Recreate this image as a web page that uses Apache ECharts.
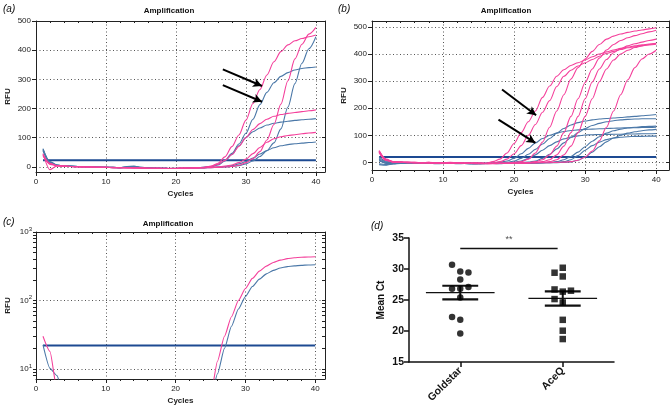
<!DOCTYPE html>
<html><head><meta charset="utf-8">
<script src="https://cdn.jsdelivr.net/npm/echarts@6/dist/echarts.min.js"></script>
<style>html,body{margin:0;padding:0;background:#fff}#c{width:672px;height:407px}</style>
</head><body><div id="c"></div>
<script>
// ---------- data ----------
const cycles = [1,2,3,4,5,6,7,8,9,10,11,12,13,14,15,16,17,18,19,20,21,22,23,24,25,26,27,28,29,30,31,32,33,34,35,36,37,38,39,40];
const cycleTicks = [0,10,20,30,40];
const cycleMinorTicks = [2,4,6,8,12,14,16,18,22,24,26,28,32,34,36,38];
const rfuTicks = [0,100,200,300,400,500];
const logLabelTicks = [10,100,1000];
const logGridTicks = [10,100];
const logMinorTicks = [8,9,10,20,30,40,50,60,70,80,90,100,200,300,400,500,600,700,800,900,1000];

// panel (a)
const thresholdA = 22;
const aPink1 = [40,8,4,2,1,0,-1,-1,-2,-2,-3,-3,-4,-4,-5,-5,-5,-6,-6,-6,-5,-5,-4,-3,2,12,34,69,109,160,217,265,315,360,395,418,432,440,446,452];
const aBlue1 = [62,15,6,3,2,1,0,-1,-1,-2,-2,-3,0,1,-2,-4,-4,-5,-6,-5,-5,-4,-3,-2,1,8,22,46,78,115,163,213,255,288,310,323,332,337,340,342];
const aPink3 = [45,-10,3,2,1,0,0,-1,-1,-2,-3,-3,-3,-4,-4,-5,-5,-5,-5,-5,-4,-4,-3,-2,1,8,22,42,70,100,128,148,163,173,179,183,186,189,192,195];
const aBlue3 = [55,12,5,3,2,1,0,0,-1,-1,-2,-4,-2,0,-3,-4,-5,-5,-6,-6,-5,-4,-3,-2,0,6,20,42,72,100,120,133,143,149,153,156,159,161,163,165];
const aPink2 = [38,10,4,2,1,0,-1,-1,-2,-2,-2,-3,-3,-4,-4,-5,-5,-5,-6,-6,-5,-5,-5,-4,-3,-2,-1,1,5,14,28,52,92,145,215,295,370,420,455,478];
const aBlue2 = [60,18,6,3,2,1,0,-1,-1,-2,-2,-3,1,2,-2,-4,-5,-5,-6,-6,-6,-5,-5,-4,-3,-2,-1,1,4,10,20,35,55,82,130,205,285,355,405,446];
const aPink4 = [42,12,4,2,1,0,-1,-1,-2,-2,-3,-3,-4,-4,-5,-5,-5,-6,-6,-6,-5,-5,-4,-3,-2,0,2,6,14,26,45,66,84,96,103,107,110,113,116,118];
const aBlue4 = [58,14,5,3,1,0,0,-1,-2,-2,-3,-3,-2,0,-3,-4,-5,-5,-6,-6,-5,-5,-4,-3,-2,-1,1,4,10,18,30,44,56,65,72,76,79,81,83,85];
const arrowsA = [[[26.7,334],[32.3,277]], [[26.7,280],[32.3,223]]];

// panel (b)
const thresholdB = 20;
const bP1 = [44,12,3,1,0,0,-1,0,-1,-1,0,-1,-2,-1,-2,-3,3,12,35,70,110,150,190,240,282,318,342,358,368,378,390,400,408,415,421,426,430,434,437,440];
const bP2 = [40,10,2,1,0,-1,-1,0,-2,-1,-1,-2,-2,-3,-2,-3,-2,3,12,32,62,100,140,185,228,280,318,340,356,368,380,392,402,410,417,423,427,431,434,436];
const bP3 = [38,8,2,0,-1,-1,-2,-1,-2,-3,-2,-3,-3,-4,-3,-4,-3,-3,-2,0,3,12,35,75,130,190,250,308,350,382,410,435,455,466,474,480,485,489,493,497];
const bP4 = [42,9,2,0,0,-1,-1,-2,-2,-2,-3,-2,-3,-4,-3,-5,-4,-3,-3,-2,-2,-1,3,10,28,60,110,170,235,295,345,385,415,435,450,460,468,475,482,488];
const bP5 = [36,7,1,0,-1,-1,-2,-2,-3,-2,-3,-3,-4,-4,-5,-4,-4,-3,-3,-2,-2,-1,0,3,10,28,60,110,170,235,297,345,380,405,420,430,438,444,450,455];
const bP6 = [39,8,2,1,0,-1,-1,-2,-2,-3,-2,-3,-3,-4,-4,-4,-5,-4,-4,-3,-3,-2,-1,0,3,10,28,60,110,170,235,298,345,378,400,414,424,430,435,439];
const bP7 = [41,10,3,1,0,0,-1,-1,-2,-2,-2,-3,-3,-3,-4,-4,-4,-4,-3,-3,-3,-2,-2,-1,-1,0,1,3,8,20,42,80,130,190,250,305,350,382,400,414];
const bB1 = [20,5,1,0,-1,-2,-1,-3,-2,-4,-3,-2,-4,-3,-5,-3,-2,1,5,15,32,52,72,88,100,108,114,118,120,122,123,124,125,126,127,128,128,129,129,130];
const bB2 = [12,-4,-3,-2,-3,-2,-4,-3,-5,-4,-3,-5,-4,-6,-4,-5,-3,-2,0,5,15,30,48,68,88,108,125,138,147,153,157,160,162,164,166,168,170,172,174,177];
const bB3 = [-8,-10,-6,-4,-3,-3,-2,-4,-3,-2,-3,-4,-3,-2,-3,-4,-3,-2,-1,1,5,14,28,45,62,76,87,94,98,101,102,103,103,104,104,105,105,106,106,107];
const bB4 = [5,-2,-3,-2,-3,-1,-2,-3,-2,-4,-3,-2,-3,-4,-5,-3,-4,-3,-2,-2,-1,1,5,15,30,50,72,92,110,125,136,144,150,154,157,159,160,161,161,161];
const bB5 = [15,2,-1,-2,-3,-2,-3,-4,-3,-2,-4,-3,-4,-5,-4,-3,-4,-5,-3,-3,-2,-3,-2,-1,0,3,10,22,38,58,78,95,108,117,123,127,130,132,133,134];
const bB6 = [-5,-8,-5,-3,-2,-3,-2,-3,-4,-3,-2,-3,-4,-3,-2,-4,-3,-3,-4,-2,-2,-3,-2,-1,-1,0,3,10,25,45,62,75,84,90,93,95,96,96,97,97];
const bB7 = [8,0,-2,-3,-2,-3,-4,-3,-2,-3,-4,-3,-3,-4,-5,-4,-3,-4,-3,-3,-2,-2,-3,-2,-1,-1,0,2,8,20,38,58,76,90,100,108,113,117,120,122];
const arrowsB = [[[18.3,269],[23.1,174]], [[17.8,158],[23.0,72]]];

// panel (c) (log scale)
const thresholdC = 22;
const cPink = [30,18,5,3.5,3,3,2.8,2.6,2.5,2.4,2.3,2.2,2.2,2.1,2,2,2,2,2,2,2.1,2.2,2.4,2.8,4,13,30,58,100,150,210,268,318,358,388,408,420,427,431,435];
const cBlue = [22.4,10.2,8,4,3,2.8,2.6,2.5,2.4,2.3,2.2,2.1,2.2,2.1,2,2,2,2,2,2,2,2.1,2.3,2.6,3.5,8.5,20,42,75,114,160,205,245,275,298,312,320,326,330,332];

// panel (d)
const groups = ['Goldstar','AceQ'];
const goldX = [0.92,1.0,1.08,1.0,0.92,1.0,1.08,1.0,0.92,1.0,1.0];
const goldY = [30.7,29.6,29.45,28.3,26.8,26.8,27.1,25.4,22.25,21.8,19.6];
const aceX = [2.0,1.92,2.0,1.92,2.0,2.08,1.92,2.0,2.0,2.0,2.0];
const aceY = [30.2,29.4,28.8,26.7,26.35,26.5,25.15,24.6,21.8,20.05,18.7];
const groupPos = [1,2];
const groupMean = [26.2,25.25];
const groupSem = [1.1,1.15];
const sigY = 33.3;
const sigFrom = 1, sigTo = 1.95;

// ---------- styling ----------
const FONT = 'Liberation Sans, Arial, Helvetica, sans-serif';
const AX = '#222';
const PINK = '#f4409b';
const BLUE = '#4b78a8';
const THR = '#1d4a92';
const GRIDLINE = {show:true, lineStyle:{color:'#555', type:[1,2.5], width:1}};

const xAxes = [], yAxes = [], series = [];

function addCyclePanel(g, xmax, ymin, ymax, isLog) {
  const xi = xAxes.length;
  xAxes.push({gridIndex:g, type:'value', position:'bottom', min:0, max:xmax,
    name:'Cycles', nameLocation:'middle', nameGap:18,
    nameTextStyle:{fontFamily:FONT, fontWeight:'bold', fontSize:8, color:'#222'},
    axisLine:{show:true, onZero:false, lineStyle:{color:AX, width:1}},
    axisTick:{show:true, length:4, customValues:cycleTicks, lineStyle:{color:AX}},
    axisLabel:{customValues:cycleTicks, fontFamily:FONT, fontSize:8, color:'#222', margin:6},
    splitLine:GRIDLINE});
  xAxes.push({gridIndex:g, type:'value', position:'bottom', min:0, max:xmax,
    axisLine:{show:false, onZero:false}, axisLabel:{show:false}, splitLine:{show:false},
    axisTick:{show:true, length:2, customValues:cycleMinorTicks, lineStyle:{color:AX}}});
  xAxes.push({gridIndex:g, type:'value', position:'top', min:0, max:xmax,
    axisLine:{show:true, onZero:false, lineStyle:{color:AX, width:1}}, axisLabel:{show:false}, splitLine:{show:false},
    axisTick:{show:true, inside:true, length:2, customValues:cycleTicks.concat(cycleMinorTicks), lineStyle:{color:AX}}});
  const yi = yAxes.length;
  if (!isLog) {
    yAxes.push({gridIndex:g, type:'value', position:'left', min:ymin, max:ymax,
      name:'RFU', nameLocation:'middle', nameGap:24,
      nameTextStyle:{fontFamily:FONT, fontWeight:'bold', fontSize:8, color:'#222'},
      axisLine:{show:true, onZero:false, lineStyle:{color:AX, width:1}},
      axisTick:{show:true, length:4, customValues:rfuTicks, lineStyle:{color:AX}},
      axisLabel:{customValues:rfuTicks, fontFamily:FONT, fontSize:8, color:'#222', margin:5},
      splitLine:GRIDLINE});
    yAxes.push({gridIndex:g, type:'value', position:'right', min:ymin, max:ymax,
      axisLine:{show:true, onZero:false, lineStyle:{color:AX, width:1}}, axisLabel:{show:false}, splitLine:{show:false},
      axisTick:{show:true, inside:true, length:3, customValues:rfuTicks, lineStyle:{color:AX}}});
  } else {
    yAxes.push({gridIndex:g, type:'log', logBase:10, position:'left', min:ymin, max:ymax,
      name:'RFU', nameLocation:'middle', nameGap:24,
      nameTextStyle:{fontFamily:FONT, fontWeight:'bold', fontSize:8, color:'#222'},
      axisLine:{show:true, onZero:false, lineStyle:{color:AX, width:1}},
      axisTick:{show:true, length:3, customValues:logMinorTicks, lineStyle:{color:AX}},
      axisLabel:{customValues:logLabelTicks, margin:4,
        formatter: v => '{b|10}{s|' + Math.round(Math.log10(v)) + '}',
        rich:{b:{fontFamily:FONT, fontSize:8, color:'#222', lineHeight:12}, s:{fontFamily:FONT, fontSize:6, color:'#222', verticalAlign:'top'}}},
      splitLine:{show:false}});
    yAxes.push({gridIndex:g, type:'log', logBase:10, position:'right', min:ymin, max:ymax,
      axisLine:{show:true, onZero:false, lineStyle:{color:AX, width:1}}, axisLabel:{show:false}, splitLine:{show:false},
      axisTick:{show:true, inside:true, length:3, customValues:logMinorTicks, lineStyle:{color:AX}}});
    yAxes.push({gridIndex:g, type:'log', logBase:10, position:'left', min:ymin, max:ymax,
      axisLine:{show:false, onZero:false}, axisLabel:{show:false},
      axisTick:{show:false, customValues:logGridTicks}, splitLine:GRIDLINE});
  }
  return {xi, yi};
}

function curve(vals, color, ax, smooth) {
  return {type:'line', xAxisIndex:ax.xi, yAxisIndex:ax.yi, symbol:'none', smooth:smooth, smoothMonotone:'x',
    data: vals.map((v,i)=>[cycles[i], v]), lineStyle:{color:color, width:1.1}, itemStyle:{color:color},
    silent:true, animation:false, z:3};
}
function threshold(val, ax) {
  return {type:'line', xAxisIndex:ax.xi, yAxisIndex:ax.yi, symbol:'none',
    data:[[cycles[0], val],[cycles[cycles.length-1], val]], lineStyle:{color:THR, width:2}, silent:true, animation:false, z:2};
}
function arrows(list, ax) {
  return {type:'line', xAxisIndex:ax.xi, yAxisIndex:ax.yi, data:[], silent:true, animation:false, z:6,
    markLine:{silent:true, animation:false, symbol:['none','arrow'], symbolSize:[7,9],
      lineStyle:{color:'#000', width:2, type:'solid'}, label:{show:false},
      data: list.map(([s,e]) => [{coord:s},{coord:e}])}};
}

const grids = [
  {left:36, top:21, width:289, height:151},
  {left:372, top:21, width:297, height:149},
  {left:36, top:232, width:289, height:147},
  {left:409, top:238, width:205, height:124}
];

// (a)
const axA = addCyclePanel(0, 41.3, -18, 500, false);
series.push(threshold(thresholdA, axA));
[[aBlue1,BLUE],[aBlue2,BLUE],[aBlue3,BLUE],[aBlue4,BLUE],[aPink1,PINK],[aPink2,PINK],[aPink3,PINK],[aPink4,PINK]]
  .forEach(([v,c]) => series.push(curve(v, c, axA, 0.3)));
series.push(arrows(arrowsA, axA));
// (b)
const axB = addCyclePanel(1, 41.8, -28, 522, false);
series.push(threshold(thresholdB, axB));
[[bB1,BLUE],[bB2,BLUE],[bB3,BLUE],[bB4,BLUE],[bB5,BLUE],[bB6,BLUE],[bB7,BLUE],
 [bP1,PINK],[bP2,PINK],[bP3,PINK],[bP4,PINK],[bP5,PINK],[bP6,PINK],[bP7,PINK]]
  .forEach(([v,c]) => series.push(curve(v, c, axB, 0.3)));
series.push(arrows(arrowsB, axB));
// (c)
const axC = addCyclePanel(2, 41.4, 7.14, 1000, true);
series.push(threshold(thresholdC, axC));
series.push(curve(cBlue, BLUE, axC, 0.2));
series.push(curve(cPink, PINK, axC, 0.2));

// (d)
xAxes.push({gridIndex:3, type:'category', data:groups, boundaryGap:true, position:'bottom',
  axisLine:{show:true, onZero:false, lineStyle:{color:'#111', width:1.5}},
  axisTick:{show:true, alignWithLabel:true, length:5, lineStyle:{color:'#111', width:1.5}},
  axisLabel:{rotate:45, fontFamily:FONT, fontWeight:'bold', fontSize:10.5, color:'#111', margin:7},
  splitLine:{show:false}});
const dVal = xAxes.length;
xAxes.push({gridIndex:3, type:'value', min:0.5, max:2.5, show:false});
const dY = yAxes.length;
yAxes.push({gridIndex:3, type:'value', min:15, max:35, interval:5, position:'left',
  name:'Mean Ct', nameLocation:'middle', nameGap:23,
  nameTextStyle:{fontFamily:FONT, fontWeight:'bold', fontSize:10, color:'#111'},
  axisLine:{show:true, onZero:false, lineStyle:{color:'#111', width:1.5}},
  axisTick:{show:true, length:5, lineStyle:{color:'#111', width:1.5}},
  axisLabel:{fontFamily:FONT, fontWeight:'bold', fontSize:10.5, color:'#111', margin:5},
  splitLine:{show:false}});

function dLine(pts, w) {
  return {type:'line', xAxisIndex:dVal, yAxisIndex:dY, symbol:'none', data:pts,
    lineStyle:{color:'#111', width:w}, silent:true, animation:false, z:4};
}
series.push({type:'scatter', xAxisIndex:dVal, yAxisIndex:dY, symbol:'circle', symbolSize:6.5,
  data: goldY.map((y,i)=>[goldX[i], y]), itemStyle:{color:'#000'}, animation:false, z:5});
series.push({type:'scatter', xAxisIndex:dVal, yAxisIndex:dY, symbol:'rect', symbolSize:6.5,
  data: aceY.map((y,i)=>[aceX[i], y]), itemStyle:{color:'#000'}, animation:false, z:5});
const MEANHALF = 0.335, CAPHALF = 0.175;
groupPos.forEach((p,i) => {
  const m = groupMean[i], s = groupSem[i];
  series.push(dLine([[p-MEANHALF, m],[p+MEANHALF, m]], 1.3));
  series.push(dLine([[p-CAPHALF, m+s],[p+CAPHALF, m+s]], 2.2));
  series.push(dLine([[p-CAPHALF, m-s],[p+CAPHALF, m-s]], 2.2));
  series.push(dLine([[p, m-s],[p, m+s]], 2));
});
series.push(dLine([[sigFrom, sigY],[sigTo, sigY]], 1.5));
series.push({type:'scatter', xAxisIndex:dVal, yAxisIndex:dY, symbolSize:0,
  data:[[(sigFrom+sigTo)/2, sigY]], silent:true, animation:false,
  label:{show:true, formatter:'**', position:'top', distance:5, fontFamily:FONT, fontSize:9, color:'#222'}});

const txt = (x, y, text, font, align) => ({type:'text', x:x, y:y, silent:true,
  style:{text:text, font:font, fill:'#111', align:align||'center', verticalAlign:'middle'}});
const graphic = [
  txt(169, 11, 'Amplification', 'bold 8px ' + FONT),
  txt(506, 11, 'Amplification', 'bold 8px ' + FONT),
  txt(168, 224, 'Amplification', 'bold 8px ' + FONT),
  txt(3, 9, '(a)', 'italic 10px ' + FONT, 'left'),
  txt(338, 9, '(b)', 'italic 10px ' + FONT, 'left'),
  txt(3, 222, '(c)', 'italic 10px ' + FONT, 'left'),
  txt(371, 226, '(d)', 'italic 10px ' + FONT, 'left')
];

const chart = echarts.init(document.getElementById('c'), null, {renderer:'canvas'});
chart.setOption({
  animation:false,
  backgroundColor:'#fff',
  grid:grids,
  xAxis:xAxes,
  yAxis:yAxes,
  series:series,
  graphic:graphic
});
</script></body></html>
